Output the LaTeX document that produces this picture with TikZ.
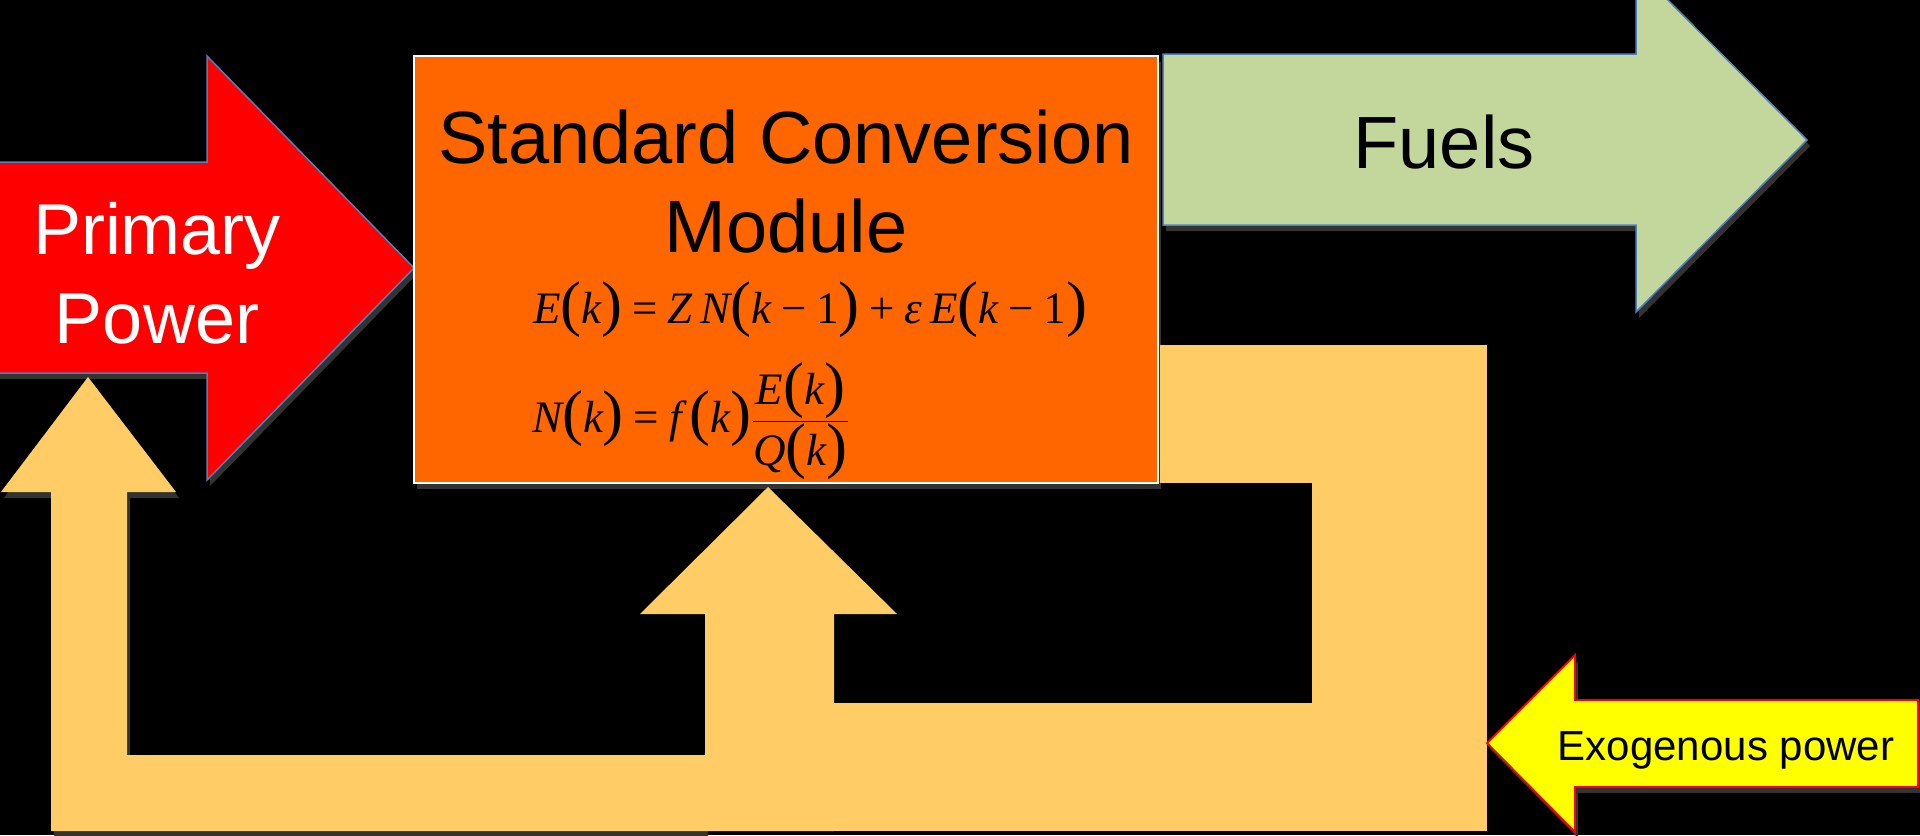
\documentclass[tikz,border=0pt]{standalone}
\usepackage{fontspec}
\setmainfont{Liberation Sans}
\newfontfamily\tms{Liberation Serif}
\usepackage{graphicx}
\definecolor{redA}{HTML}{FF0000}
\definecolor{orangeB}{HTML}{FF6600}
\definecolor{greenF}{HTML}{C3D69B}
\definecolor{loopY}{HTML}{FFCC66}
\definecolor{exoY}{HTML}{FFFF00}
\definecolor{edgeBlue}{HTML}{4F81BD}
\definecolor{shadowC}{HTML}{333333}
\newcommand\bp[1]{\raisebox{-0.03em}{\scalebox{1.4}[1.37]{#1}}}
\newcommand\iv[1]{{\itshape #1}}
\newcommand\eqsp{\kern0.22em}
\tikzset{
  shd/.style={fill=shadowC, shift={(3,6)}},
  redpath/.style={insert path={(-3,162) -- (207,162) -- (207,56) -- (414,268) -- (207,480) -- (207,373) -- (-3,373) -- cycle}},
  boxpath/.style={insert path={(414,56) rectangle (1158,483)}},
  greenpath/.style={insert path={(1163,54) -- (1636,54) -- (1636,-32) -- (1807,140) -- (1636,312) -- (1636,225) -- (1163,225) -- cycle}},
  larrowpath/.style={insert path={(51,831) -- (51,492) -- (1,492) -- (88,377) -- (176,492) -- (127,492) -- (127,755) -- (705,755) -- (705,831) -- cycle}},
  marrowpath/.style={insert path={(705,831) -- (705,614) -- (640,614) -- (768,487) -- (897,614) -- (834,614) -- (834,831) -- cycle}},
  rbarpath/.style={insert path={(834,703) rectangle (1318,831)}},
  vbarpath/.style={insert path={(1312,483) rectangle (1487,831)}},
  tblockpath/.style={insert path={(1160,345) rectangle (1487,483)}},
  exopath/.style={insert path={(1487,743) -- (1575,655) -- (1575,700) -- (1918,700) -- (1918,787) -- (1575,787) -- (1575,832) -- cycle}},
  lbl/.style={inner sep=0pt, outer sep=0pt},
  eqn/.style={lbl, font=\tms\fontsize{22.5}{27}\selectfont, anchor=base west},
}
\begin{document}
\begin{tikzpicture}[x=0.5pt,y=-0.5pt]
\useasboundingbox (0,0) rectangle (1920,835);
\clip (0,0) rectangle (1920,835);
\fill[black] (0,0) rectangle (1920,835);
% shadows
\fill[shd, redpath];
\fill[shd, boxpath];
\fill[shd, greenpath];
\fill[shd, larrowpath];
\fill[shd, exopath];
% main shapes
\filldraw[fill=redA, draw=edgeBlue, line width=0.75pt, line join=miter, redpath];
\filldraw[fill=orangeB, draw=white, line width=1.2pt, boxpath];
\filldraw[fill=greenF, draw=edgeBlue, line width=0.75pt, greenpath];
\fill[loopY, larrowpath];
\fill[loopY, marrowpath];
\fill[loopY, rbarpath];
\fill[loopY, vbarpath];
\fill[loopY, tblockpath];
\filldraw[fill=exoY, draw=redA, line width=0.9pt, exopath];
% texts
\node[lbl, font=\fontsize{36}{44.5}\selectfont, text=white, align=center] (pp) at (157,273) {Primary\\Power};
\node[lbl, font=\fontsize{37}{44.5}\selectfont, align=center] (scm) at (786,182) {Standard Conversion\\Module};
\node[lbl, font=\fontsize{37}{44}\selectfont, anchor=base] (fuels) at (1444,168) {Fuels};
\node[lbl, font=\fontsize{21}{25}\selectfont, anchor=base] (exo) at (1726,760) {Exogenous power};
\node[eqn] (eq1) at (533,323) {\iv{E}\bp(\iv{k}\bp)\eqsp=\eqsp\iv{Z\,N}\bp(\iv{k}\eqsp−\eqsp1\bp)\eqsp+\eqsp\iv{ε\,E}\bp(\iv{k}\eqsp−\eqsp1\bp)};
\node[eqn] (eq2) at (532,432) {\iv{N}\bp(\iv{k}\bp)\eqsp=\eqsp\iv{f}\,\bp(\iv{k}\bp)$\textstyle{\mbox{\iv{E}\bp(\iv{k}\bp)}\above 0.85pt\mbox{\iv{Q}\bp(\iv{k}\bp)}}$};
\end{tikzpicture}
\end{document}
